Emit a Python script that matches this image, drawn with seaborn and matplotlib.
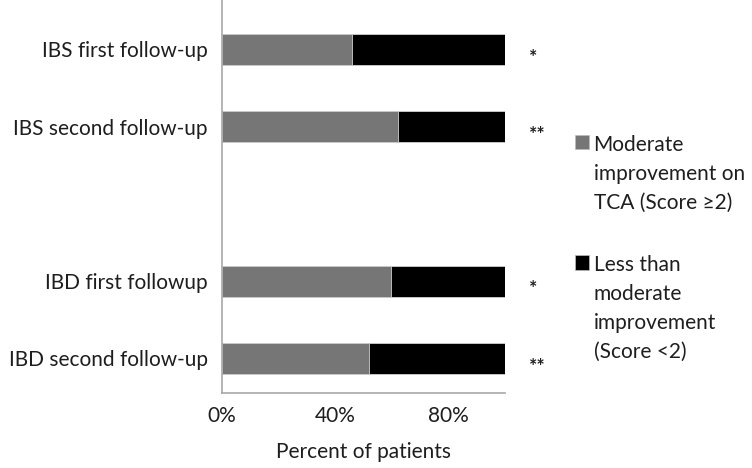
import numpy as np
import pandas as pd
import matplotlib.pyplot as plt
import seaborn as sns
from matplotlib.patches import Rectangle, Patch
from matplotlib.legend_handler import HandlerPatch

# data
groups = ['IBS first follow-up', 'IBS second follow-up', 'IBD first followup', 'IBD second follow-up']
moderate = [46, 62, 59.5, 52]       # % with score >= 2
less = [54, 38, 40.5, 48]           # % with score < 2
stars = ['*', '**', '*', '**']
xticks = [0, 40, 80]
xtick_labels = ['0%', '40%', '80%']

legend_labels = ['Moderate\nimprovement on\nTCA (Score \u22652)',
                 'Less than\nmoderate\nimprovement\n(Score <2)']

GRAY = '#767676'
AXIS = '#a8a8a8'
TXT = '#1e1e1e'
FS = 15
LINESP = 1.55

sns.set_style('white')
plt.rcParams['font.family'] = ['Lato', 'DejaVu Sans']

df = pd.DataFrame({'group': groups, 'moderate': moderate, 'less': less})
df['total'] = df['moderate'] + df['less']
# blank slot between IBS and IBD blocks
order = groups[:2] + [' '] + groups[2:]

fig = plt.figure(figsize=(7.52, 4.68), dpi=100)
ax = fig.add_axes([0.295, 0.16, 0.377, 0.84])

sns.barplot(data=df, y='group', x='total', order=order, orient='h', color='black',
            saturation=1, width=0.4, errorbar=None, edgecolor='#d0d0d0', linewidth=0.6, ax=ax)
sns.barplot(data=df, y='group', x='moderate', order=order, orient='h', color=GRAY,
            saturation=1, width=0.4, errorbar=None, edgecolor='#d0d0d0', linewidth=0.6, ax=ax)

for g, s in zip(groups, stars):
    ax.text(108.3, order.index(g) + 0.1, s, ha='left', va='center', fontsize=14,
            fontweight='bold', color=TXT, clip_on=False)

ax.set_xlim(0, 100)
ax.set_ylim(4.45, -0.64)
ax.set_xticks(xticks)
ax.set_xticklabels(xtick_labels, fontsize=FS, color=TXT)
ax.tick_params(axis='y', length=0, pad=10, labelsize=FS, labelcolor=TXT)
ax.tick_params(axis='x', direction='out', length=4, width=1, color=AXIS, pad=5)
ax.set_xlabel('Percent of patients', fontsize=FS, color=TXT, labelpad=12)
ax.set_ylabel('')
sns.despine(ax=ax)
for sp in ['left', 'bottom']:
    ax.spines[sp].set_color(AXIS)
    ax.spines[sp].set_linewidth(1.2)


def first_line_handler(nlines):
    # put the square next to the first line of a multi-line label
    def f(legend, orig_handle, xdescent, ydescent, width, height, fontsize):
        shift = (nlines - 1) / 2 * fontsize * LINESP * 0.86 + 3.5
        return Rectangle((-xdescent, -ydescent + shift), width, height)
    return HandlerPatch(patch_func=f)


handles = [Patch(facecolor=GRAY, edgecolor='#bbbbbb', linewidth=0.5),
           Patch(facecolor='black', edgecolor='#bbbbbb', linewidth=0.5)]
leg = fig.legend(handles, legend_labels, loc='upper left', bbox_to_anchor=(0.7646, 0.712),
                 frameon=False, fontsize=FS, handlelength=0.67, handleheight=0.67,
                 handletextpad=0.22, borderpad=0, borderaxespad=0, labelspacing=2.05,
                 handler_map={handles[i]: first_line_handler(lab.count('\n') + 1)
                              for i, lab in enumerate(legend_labels)})
for t in leg.get_texts():
    t.set_linespacing(LINESP)
    t.set_color(TXT)

fig.savefig('out.png', dpi=100)
